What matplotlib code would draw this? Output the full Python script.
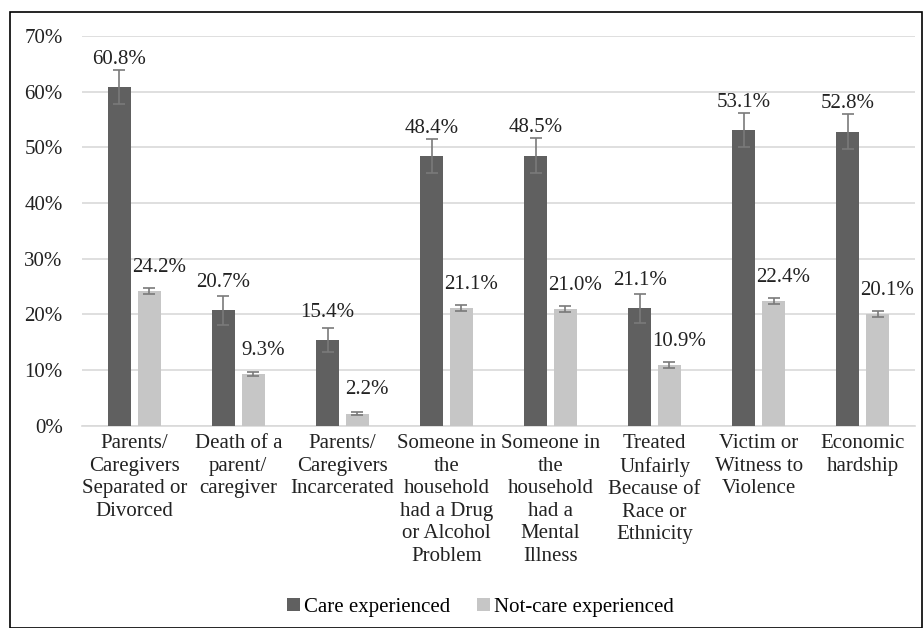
import matplotlib

matplotlib.use("Agg")
import matplotlib.pyplot as plt
import numpy as np
from matplotlib.patches import Rectangle

categories = [
    "Parents/\nCaregivers\nSeparated or\nDivorced",
    "Death of a\nparent/\ncaregiver",
    "Parents/\nCaregivers\nIncarcerated",
    "Someone in\nthe\nhousehold\nhad a Drug\nor Alcohol\nProblem",
    "Someone in\nthe\nhousehold\nhad a\nMental\nIllness",
    "Treated\nUnfairly\nBecause of\nRace or\nEthnicity",
    "Victim or\nWitness to\nViolence",
    "Economic\nhardship",
]
care = [60.8, 20.7, 15.4, 48.4, 48.5, 21.1, 53.1, 52.8]
care_err = [3.0, 2.6, 2.2, 3.1, 3.1, 2.6, 3.1, 3.1]
not_care = [24.2, 9.3, 2.2, 21.1, 21.0, 10.9, 22.4, 20.1]
not_care_err = [0.6, 0.4, 0.2, 0.5, 0.5, 0.5, 0.5, 0.5]

plt.rcParams["font.family"] = ["Liberation Serif", "DejaVu Serif"]

fig = plt.figure(figsize=(9.24, 6.28), dpi=100)
ax = fig.add_axes([0.089, 0.322, 0.901, 0.621])

x = np.arange(len(categories))
width = 0.22
off = 0.143
dark = "#606060"
light = "#c6c6c6"
ecol = "#7a7a7a"
fs = 15

ax.bar(x - off, care, width, color=dark, label="Care experienced", zorder=3)
ax.bar(x + off, not_care, width, color=light, label="Not-care experienced", zorder=3)
ax.errorbar(x - off, care, yerr=care_err, fmt="none", ecolor=ecol, elinewidth=1.2,
            capsize=4, capthick=1.2, zorder=4)
ax.errorbar(x + off, not_care, yerr=not_care_err, fmt="none", ecolor=ecol, elinewidth=1.2,
            capsize=4, capthick=1.2, zorder=4)

# data labels sit above the bar end (Excel style); light ones nudged right
for xi, v in zip(x - off, care):
    ax.annotate(f"{v:.1f}%", (xi, v), xytext=(0, 20), textcoords="offset points",
                ha="center", va="center", fontsize=fs, color="#222222")
for xi, v in zip(x + off, not_care):
    ax.annotate(f"{v:.1f}%", (xi, v), xytext=(7, 17), textcoords="offset points",
                ha="center", va="center", fontsize=fs, color="#222222")

ax.set_ylim(0, 70)
ax.set_xlim(-0.5, len(categories) - 0.5)
ax.set_yticks(np.arange(0, 71, 10))
ax.set_yticklabels([f"{t}%" for t in range(0, 71, 10)], fontsize=fs, color="#222222")
ax.set_xticks(x)
ax.set_xticklabels(categories, fontsize=fs, color="#222222", linespacing=1.25, va="top")
ax.tick_params(length=0, pad=6)
ax.tick_params(axis="y", pad=14)
ax.grid(True, axis="y", color="#d9d9d9", linewidth=1.2, zorder=0)
for s in ["top", "right", "left"]:
    ax.spines[s].set_visible(False)
ax.spines["bottom"].set_color("#d9d9d9")
ax.spines["bottom"].set_linewidth(1.2)

fig.legend(loc="lower center", bbox_to_anchor=(0.52, -0.012), ncol=2, frameon=False,
           fontsize=fs, handlelength=0.6, handleheight=0.6, handletextpad=0.2,
           columnspacing=1.3)

fig.patches.append(Rectangle((0.011, 0.0), 0.987, 0.981, transform=fig.transFigure,
                             fill=False, edgecolor="#000000", linewidth=1.2))

fig.savefig("out.png", dpi=100)
